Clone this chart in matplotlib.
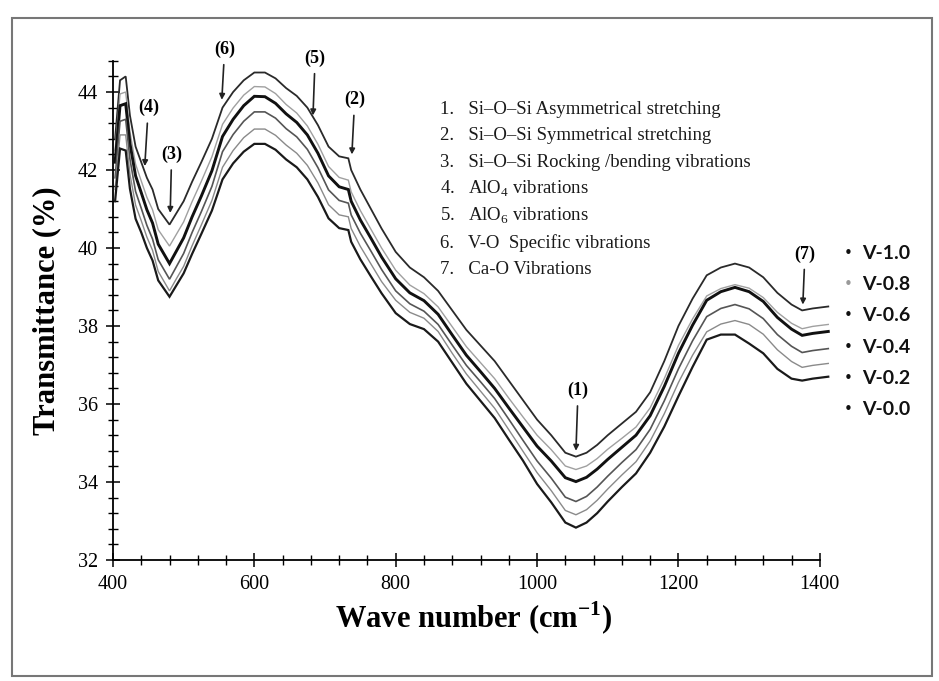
import matplotlib
matplotlib.use("Agg")
import matplotlib.pyplot as plt
from matplotlib.ticker import MultipleLocator
from matplotlib.patches import Rectangle

plt.rcParams['font.family'] = ['Liberation Serif', 'DejaVu Serif']
plt.rcParams['mathtext.fontset'] = 'custom'
plt.rcParams['mathtext.rm'] = 'Liberation Serif'
plt.rcParams['mathtext.bf'] = 'Liberation Serif:bold'

# wave numbers (cm-1), shared by all spectra
wn = [403, 410, 418, 424, 432, 440, 448, 456, 464, 472,
      480, 490, 500, 512, 525, 540, 555, 570, 585, 600,
      615, 630, 645, 660, 675, 690, 705, 720, 733, 737,
      750, 765, 780, 800, 820, 840, 860, 880, 900, 920,
      940, 960, 980, 1000, 1020, 1040, 1055, 1070, 1085, 1100,
      1120, 1140, 1160, 1180, 1200, 1220, 1240, 1260, 1280, 1300,
      1320, 1340, 1360, 1375, 1390, 1412]

# transmittance (%)
v10 = [42.8, 44.3, 44.4, 43.4, 42.6, 42.2, 41.8, 41.5, 41.0, 40.8,
       40.6, 40.9, 41.2, 41.7, 42.2, 42.8, 43.6, 44.0, 44.3, 44.5,
       44.5, 44.35, 44.1, 43.9, 43.6, 43.15, 42.6, 42.35, 42.3, 42.0,
       41.5, 41.0, 40.5, 39.9, 39.5, 39.25, 38.9, 38.4, 37.9, 37.5,
       37.1, 36.6, 36.1, 35.6, 35.2, 34.75, 34.65, 34.75, 34.95, 35.2,
       35.5, 35.8, 36.3, 37.1, 38.0, 38.7, 39.3, 39.5, 39.6, 39.5,
       39.25, 38.85, 38.55, 38.4, 38.45, 38.5]
v08 = [42.5, 43.95, 44.0, 42.98, 42.15, 41.72, 41.3, 40.98, 40.47, 40.26,
       40.05, 40.36, 40.67, 41.19, 41.71, 42.34, 43.17, 43.59, 43.92, 44.14,
       44.13, 43.96, 43.68, 43.46, 43.13, 42.66, 42.09, 41.81, 41.74, 41.44,
       40.96, 40.48, 40.0, 39.43, 39.05, 38.83, 38.49, 37.98, 37.47, 37.06,
       36.65, 36.15, 35.67, 35.2, 34.83, 34.41, 34.32, 34.41, 34.6, 34.84,
       35.12, 35.41, 35.9, 36.65, 37.5, 38.18, 38.77, 38.96, 39.06, 38.97,
       38.73, 38.35, 38.07, 37.93, 37.99, 38.04]
v06 = [42.2, 43.65, 43.7, 42.68, 41.85, 41.42, 40.98, 40.64, 40.1, 39.85,
       39.6, 39.93, 40.26, 40.8, 41.33, 41.98, 42.86, 43.3, 43.65, 43.89,
       43.88, 43.71, 43.44, 43.22, 42.9, 42.43, 41.85, 41.57, 41.5, 41.2,
       40.72, 40.25, 39.77, 39.21, 38.85, 38.65, 38.3, 37.77, 37.25, 36.83,
       36.4, 35.9, 35.41, 34.92, 34.54, 34.11, 34.01, 34.12, 34.33, 34.58,
       34.89, 35.2, 35.7, 36.45, 37.3, 38.02, 38.66, 38.88, 38.99, 38.88,
       38.63, 38.22, 37.92, 37.76, 37.81, 37.86]
v04 = [41.8, 43.25, 43.3, 42.28, 41.45, 41.02, 40.58, 40.23, 39.7, 39.45,
       39.2, 39.53, 39.86, 40.4, 40.93, 41.58, 42.47, 42.91, 43.25, 43.49,
       43.49, 43.33, 43.06, 42.85, 42.53, 42.06, 41.49, 41.22, 41.15, 40.85,
       40.38, 39.92, 39.45, 38.9, 38.57, 38.38, 38.04, 37.51, 36.99, 36.57,
       36.14, 35.61, 35.07, 34.54, 34.1, 33.61, 33.5, 33.63, 33.87, 34.15,
       34.5, 34.83, 35.35, 36.08, 36.9, 37.62, 38.24, 38.45, 38.55, 38.44,
       38.19, 37.78, 37.48, 37.32, 37.37, 37.42]
v02 = [41.5, 42.9, 42.9, 41.9, 41.1, 40.7, 40.28, 39.94, 39.4, 39.15,
       38.9, 39.22, 39.53, 40.06, 40.59, 41.22, 42.07, 42.5, 42.83, 43.05,
       43.05, 42.89, 42.64, 42.43, 42.12, 41.67, 41.11, 40.85, 40.8, 40.5,
       40.04, 39.59, 39.14, 38.66, 38.35, 38.2, 37.86, 37.3, 36.77, 36.33,
       35.89, 35.34, 34.79, 34.24, 33.78, 33.27, 33.16, 33.29, 33.53, 33.82,
       34.18, 34.52, 35.05, 35.75, 36.55, 37.25, 37.85, 38.05, 38.14, 38.04,
       37.79, 37.39, 37.09, 36.94, 36.99, 37.04]
v00 = [41.2, 42.55, 42.5, 41.52, 40.75, 40.4, 40.0, 39.68, 39.17, 38.96,
       38.75, 39.05, 39.35, 39.85, 40.36, 40.96, 41.76, 42.17, 42.47, 42.67,
       42.67, 42.52, 42.27, 42.07, 41.76, 41.31, 40.76, 40.51, 40.46, 40.16,
       39.71, 39.27, 38.84, 38.33, 38.05, 37.92, 37.6, 37.06, 36.52, 36.08,
       35.64, 35.09, 34.55, 33.95, 33.48, 32.96, 32.83, 32.96, 33.2, 33.5,
       33.87, 34.22, 34.75, 35.42, 36.2, 36.95, 37.65, 37.78, 37.78, 37.55,
       37.3, 36.9, 36.65, 36.6, 36.65, 36.7]

names = ['V-1.0', 'V-0.8', 'V-0.6', 'V-0.4', 'V-0.2', 'V-0.0']
series = [v10, v08, v06, v04, v02, v00]
colors = ['#2a2a2a', '#a0a0a0', '#111111', '#555555', '#8a8a8a', '#1a1a1a']
widths = [1.3, 1.0, 2.1, 1.2, 1.0, 1.6]

# band assignments
bands = ['Si\u2013O\u2013Si Asymmetrical stretching',
         'Si\u2013O\u2013Si Symmetrical stretching',
         'Si\u2013O\u2013Si Rocking /bending vibrations',
         'AlO$_4$ vibrations',
         'AlO$_6$ vibrations',
         'V-O  Specific vibrations',
         'Ca-O Vibrations']
# peak markers: (label, curve point, label position)
peaks = [('(1)', 1055, 34.8, 1058, 36.35),
         ('(2)', 738, 42.4, 742, 43.8),
         ('(3)', 481, 40.9, 483, 42.4),
         ('(4)', 445, 42.1, 450, 43.6),
         ('(5)', 683, 43.4, 686, 44.87),
         ('(6)', 554, 43.8, 558, 45.1),
         ('(7)', 1376, 38.55, 1379, 39.85)]

fig = plt.figure(figsize=(9.39, 6.81), dpi=100)
ax = fig.add_axes([0.1203, 0.1777, 0.7678, 0.7330])

for y, c, w in zip(series, colors, widths):
    ax.plot(wn, y, color=c, lw=w, solid_joinstyle='miter')

ax.set_xlim(400, 1420)
ax.set_ylim(32, 44.8)
ax.spines['top'].set_visible(False)
ax.spines['right'].set_visible(False)
ax.spines['bottom'].set_bounds(400, 1400)
ax.spines['left'].set_linewidth(1.3)
ax.spines['bottom'].set_linewidth(1.3)
ax.xaxis.set_major_locator(MultipleLocator(200))
ax.xaxis.set_minor_locator(MultipleLocator(40))
ax.yaxis.set_major_locator(MultipleLocator(2))
ax.yaxis.set_minor_locator(MultipleLocator(0.4))
ax.tick_params(which='major', direction='inout', length=10, width=1.1, labelsize=14.5, pad=6)
ax.tick_params(which='minor', direction='inout', length=7, width=1.0)
ax.set_xticks([400, 600, 800, 1000, 1200, 1400])

ax.set_xlabel('Wave number (cm$^{\\mathbf{-1}}$)', fontsize=22, fontweight='bold', labelpad=4)
ax.set_ylabel('Transmittance (%)', fontsize=22, fontweight='bold', labelpad=12)

for i, b in enumerate(bands):
    ax.text(863, 43.56 - i * 0.685, '%d.   %s' % (i + 1, b), fontsize=13.5,
            va='center', ha='left', color='#1a1a1a')

for lab, px, py, tx, ty in peaks:
    ax.annotate(lab, xy=(px, py), xytext=(tx, ty), fontsize=13, fontweight='bold',
                ha='center', va='center', annotation_clip=False,
                arrowprops=dict(arrowstyle='-|>', color='#222222', lw=1.2,
                                mutation_scale=8, shrinkA=3, shrinkB=0))

for i, n in enumerate(names):
    yy = 39.86 - i * 0.8
    ax.text(1440, yy, '\u2022', fontsize=11, ha='center', va='center', clip_on=False,
            color='#999999' if i == 1 else '#111111', family='DejaVu Sans')
    ax.text(1460, yy, n, fontsize=14, fontweight='bold', ha='left', va='center',
            clip_on=False, family='Lato', color='#111111')

fig.patches.append(Rectangle((0.0128, 0.0073), 0.9797, 0.9663, transform=fig.transFigure,
                             fill=False, edgecolor='#777777', lw=1.5))

plt.savefig('out.png', dpi=100)
